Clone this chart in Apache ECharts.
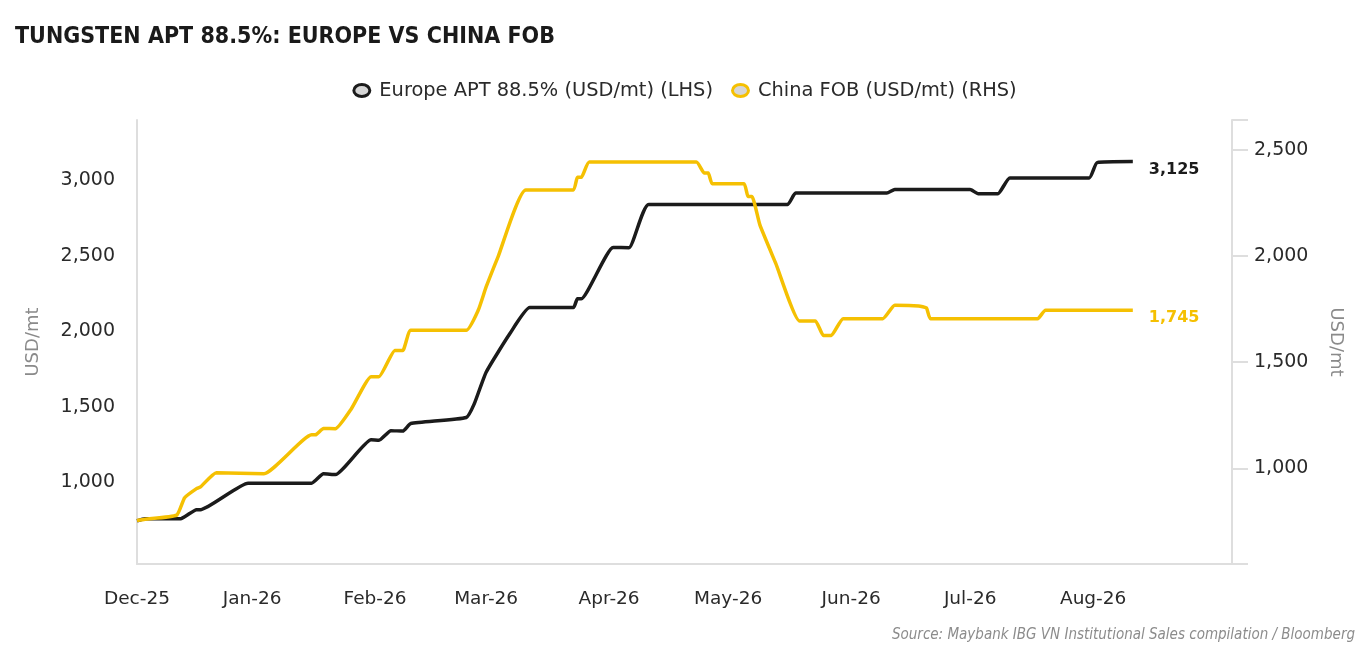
<!DOCTYPE html>
<html>
<head>
<meta charset="utf-8">
<script src="https://cdn.jsdelivr.net/npm/echarts@6/dist/echarts.min.js"></script>
<style>
html,body{margin:0;padding:0;background:#fff;}
#chart{width:1369px;height:670px;}
</style>
</head>
<body>
<div id="chart"></div>
<script>
// ---- data ----
var europeDates = ['2025-12-03','2025-12-05','2025-12-14','2025-12-18','2025-12-19','2025-12-31','2026-01-16','2026-01-19','2026-01-22','2026-01-31','2026-02-02','2026-02-05','2026-02-08','2026-02-10','2026-02-24','2026-02-26','2026-03-01','2026-03-07','2026-03-12','2026-03-23','2026-03-24','2026-03-25','2026-04-02','2026-04-06','2026-04-11','2026-05-16','2026-05-18','2026-06-10','2026-06-12','2026-07-01','2026-07-03','2026-07-08','2026-07-11','2026-07-31','2026-08-02','2026-08-11'];
var europeValues = [745,760,760,820,820,995,995,1058,1052,1283,1280,1343,1340,1390,1430,1520,1730,1986,2158,2158,2217,2217,2556,2554,2841,2841,2916,2916,2940,2940,2912,2912,3016,3016,3118,3125];

var chinaDates = ['2025-12-03','2025-12-05','2025-12-13','2025-12-15','2025-12-18','2025-12-19','2025-12-23','2026-01-04','2026-01-16','2026-01-17','2026-01-19','2026-01-22','2026-01-26','2026-01-31','2026-02-02','2026-02-06','2026-02-08','2026-02-10','2026-02-24','2026-02-27','2026-03-01','2026-03-04','2026-03-11','2026-03-23','2026-03-24','2026-03-25','2026-03-27','2026-04-23','2026-04-25','2026-04-26','2026-04-27','2026-05-05','2026-05-06','2026-05-07','2026-05-09','2026-05-13','2026-05-19','2026-05-23','2026-05-25','2026-05-27','2026-05-30','2026-06-09','2026-06-12','2026-06-18','2026-06-20','2026-06-21','2026-07-18','2026-07-20','2026-08-11'];
var chinaValues = [755,761,780,862,905,913,980,975,1158,1158,1188,1187,1280,1432,1432,1555,1555,1650,1650,1744,1854,1996,2311,2311,2370,2370,2442,2442,2390,2390,2340,2340,2280,2280,2146,1965,1694,1694,1626,1626,1705,1705,1768,1765,1755,1705,1705,1745,1745];

var xTickDates = ['2025-12-03','2026-01-01','2026-02-01','2026-03-01','2026-04-01','2026-05-01','2026-06-01','2026-07-01','2026-08-01'];
var leftTicks = [1000,1500,2000,2500,3000];
var rightTicks = [1000,1500,2000,2500];
var monthNames = ['Jan','Feb','Mar','Apr','May','Jun','Jul','Aug','Sep','Oct','Nov','Dec'];

function ts(s){ var p = s.split('-'); return Date.UTC(+p[0], +p[1]-1, +p[2]); }
function pairs(d, v){ return d.map(function(x,i){ return [ts(x), v[i]]; }); }
function fmt(n){ return Number(n).toLocaleString('en-US'); }

var BLACK = '#1b1b1b', YELLOW = '#f5c002', GRAYLINE = '#dedede', TXT = '#2a2a2a';
var FONT = 'DejaVu Sans';
var ellipse = 'path://M0,6 A8,6 0 1,1 16,6 A8,6 0 1,1 0,6 Z';

var chart = echarts.init(document.getElementById('chart'));
chart.setOption({
  animation: false,
  backgroundColor: '#fff',
  title: {
    text: 'TUNGSTEN APT 88.5%: EUROPE VS CHINA FOB',
    left: 10, top: 21,
    textStyle: { fontFamily: 'DejaVu Sans Condensed', fontWeight: 'bold', fontSize: 23, color: '#1a1a1a' }
  },
  legend: {
    left: 'center', top: 76,
    itemWidth: 17, itemHeight: 12, itemGap: 18,
    icon: ellipse,
    textStyle: { fontFamily: FONT, fontSize: 19.4, color: TXT, padding: [0,0,0,4] },
    data: [
      { name: 'Europe APT 88.5% (USD/mt) (LHS)', itemStyle: { color: '#d6d6d6', borderColor: BLACK, borderWidth: 3 } },
      { name: 'China FOB (USD/mt) (RHS)', itemStyle: { color: '#d6d6d6', borderColor: YELLOW, borderWidth: 3 } }
    ]
  },
  grid: { left: 137, right: 137, top: 120, bottom: 106, containLabel: false },
  xAxis: {
    type: 'value',
    min: ts('2025-12-03'), max: ts('2026-09-05'),
    axisLine: { show: true, lineStyle: { color: GRAYLINE, width: 2 } },
    axisTick: { show: false },
    splitLine: { show: false },
    axisLabel: {
      customValues: xTickDates.map(ts),
      margin: 26,
      fontFamily: FONT, fontSize: 18.5, color: TXT,
      showMinLabel: true, hideOverlap: false,
      formatter: function(v){ var d = new Date(v); return monthNames[d.getUTCMonth()] + '-' + String(d.getUTCFullYear()).slice(2); }
    }
  },
  yAxis: [
    {
      type: 'value', position: 'left', min: 460, max: 3400,
      name: 'USD/mt', nameLocation: 'middle', nameGap: 95,
      nameTextStyle: { fontFamily: FONT, fontSize: 18, color: '#8a8a8a' },
      axisLine: { show: true, lineStyle: { color: GRAYLINE, width: 2 } },
      axisTick: { show: false },
      splitLine: { show: false },
      axisLabel: { customValues: leftTicks, margin: 22, fontFamily: FONT, fontSize: 19, color: TXT, formatter: fmt }
    },
    {
      type: 'value', position: 'right', min: 550, max: 2640,
      name: 'USD/mt', nameLocation: 'middle', nameGap: 95, nameRotate: -90,
      nameTextStyle: { fontFamily: FONT, fontSize: 18, color: '#8a8a8a' },
      axisLine: { show: true, lineStyle: { color: GRAYLINE, width: 2 } },
      axisTick: { show: true, inside: false, length: 16, customValues: [550,1000,1500,2000,2500,2640], lineStyle: { color: GRAYLINE, width: 2 } },
      splitLine: { show: false },
      axisLabel: { customValues: rightTicks, margin: 22, fontFamily: FONT, fontSize: 19, color: TXT, formatter: fmt }
    }
  ],
  series: [
    {
      name: 'Europe APT 88.5% (USD/mt) (LHS)', type: 'line', yAxisIndex: 0,
      data: pairs(europeDates, europeValues),
      showSymbol: false, smooth: 0.15,
      itemStyle: { color: BLACK },
      lineStyle: { color: BLACK, width: 3.5 },
      endLabel: { show: true, offset: [8, 8], fontFamily: FONT, fontWeight: 'bold', fontSize: 16, color: BLACK,
        formatter: function(p){ return fmt(p.value[1]); } }
    },
    {
      name: 'China FOB (USD/mt) (RHS)', type: 'line', yAxisIndex: 1,
      data: pairs(chinaDates, chinaValues),
      showSymbol: false, smooth: 0.15,
      itemStyle: { color: YELLOW },
      lineStyle: { color: YELLOW, width: 3.5 },
      endLabel: { show: true, offset: [8, 8], fontFamily: FONT, fontWeight: 'bold', fontSize: 16, color: YELLOW,
        formatter: function(p){ return fmt(p.value[1]); } }
    }
  ],
  graphic: [
    { type: 'text', right: 14, top: 628,
      style: { text: 'Source: Maybank IBG VN Institutional Sales compilation / Bloomberg',
        font: 'italic 15px "DejaVu Sans Condensed"', fill: '#8c8c8c' } }
  ]
});
</script>
</body>
</html>
